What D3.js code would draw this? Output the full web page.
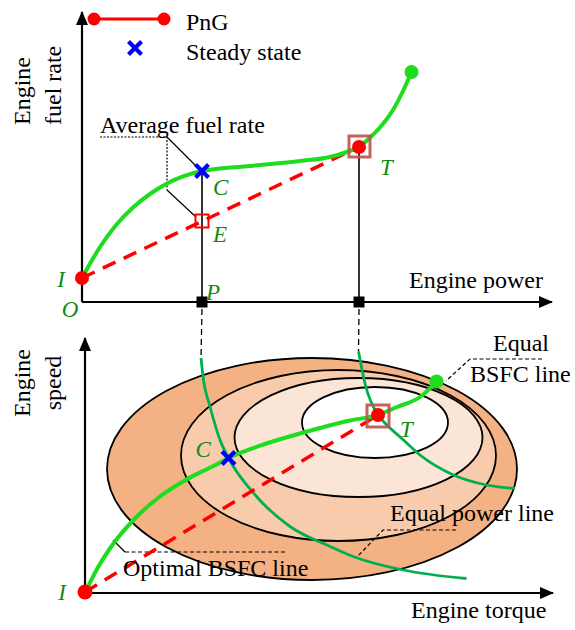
<!DOCTYPE html>
<html><head><meta charset="utf-8">
<script src="https://cdn.jsdelivr.net/npm/d3@7"></script>
<style>
html,body{margin:0;padding:0;background:#fff;}
svg{display:block;font-family:"Liberation Serif","Times New Roman",serif;}
</style></head><body>
<svg id="chart" width="575" height="630"></svg>
<script>
// ================= DATA =================
// Top panel: engine power (x) vs engine fuel rate (y), arbitrary units
const topPowerMax = 94, topFuelMax = 58;
const pngCurvePower = [0, 3.6, 6.9, 10.2, 13.6, 17, 24, 33.6, 43.6, 49.6, 53, 55.4, 57.6, 59.6, 62.2, 64.2, 65.9];
const pngCurveFuel  = [4.8, 11, 15.5, 18.9, 21.6, 23.7, 26.2, 27.2, 28.2, 29, 30, 31, 32.9, 34.9, 38.4, 42.2, 46];
const topPointNames = ["I", "C", "E", "T", "End"];
const topPointPower = [0, 24, 24, 55.4, 65.9];
const topPointFuel  = [4.8, 26.2, 16.2, 31, 46];
const avgLeaderDashedPower = [3.6, 17, 17];
const avgLeaderDashedFuel  = [33, 33, 22.4];
const avgLeaderToC = [[17, 33], [23, 27]];
const avgLeaderToE = [[17, 22.4], [22.8, 17]];

// Bottom panel: engine torque (x) vs engine speed (y), arbitrary units
const lowTorqueMax = 93.6, lowSpeedMax = 51;
const optCurveTorque = [0, 2.3, 5.7, 9.7, 15, 20.3, 25.7, 28.7, 36.3, 43, 47, 53, 58.6, 62.4, 67, 70.3];
const optCurveSpeed  = [0, 4.6, 9.9, 14.6, 19.3, 22.7, 25.4, 27, 29.9, 31.9, 33, 34.5, 35.6, 37.2, 39.2, 42.3];
const powerLineCTorque = [23.2, 23.7, 25, 27, 28.7, 34.3, 41, 49, 53.6, 63.6, 76.3];
const powerLineCSpeed  = [47, 42.6, 37.3, 30.6, 27, 19.3, 13.3, 9.3, 7.3, 4.6, 2.9];
const powerLineTTorque = [54.7, 56, 58.6, 59.7, 63.7, 67, 73.7, 80.3, 86];
const powerLineTSpeed  = [48.3, 41.9, 35.6, 34.3, 30.6, 27.6, 23.6, 21.6, 20.9];
const lowPointNames  = ["I", "C", "T", "End"];
const lowPointTorque = [0, 28.7, 58.6, 70.3];
const lowPointSpeed  = [0.2, 27, 35.6, 42.3];
// BSFC contours (ellipses): centre and semi-axes, outer to inner
const bsfcCenterTorque = [45.4, 50.7, 54.7, 58];
const bsfcCenterSpeed  = [24.8, 27.5, 31.1, 34.1];
const bsfcRadTorque    = [41, 31.5, 24.8, 14.6];
const bsfcRadSpeed     = [22.2, 17.1, 11.9, 7.1];
const bsfcFills = ["#F4B183", "#F8CBAD", "#FBE5D6", "#FFFFFF"];
// annotation leaders (data coords)
const optLeaderSolid  = [[5.6, 10.6], [8, 8.2]];
const optLeaderDashed = [[8, 8.2], [40, 8.2]];
const powLeaderDashed = [[74.2, 12.6], [59.6, 12.6], [54.2, 7]];
const bsfcLeaderDashed = [[91.4, 46.8], [77, 46.8], [72.2, 42.4]];

// ================= SCALES =================
const xTop = d3.scaleLinear().domain([0, topPowerMax]).range([82, 552]);
const yTop = d3.scaleLinear().domain([0, topFuelMax]).range([302, 12]);
const xLow = d3.scaleLinear().domain([0, lowTorqueMax]).range([85, 553]);
const yLow = d3.scaleLinear().domain([0, lowSpeedMax]).range([593, 338]);

const BRIGHT = "#1EDC1E", DKGREEN = "#00B050", LABEL = "#118A11";
const svg = d3.select("#chart");
const defs = svg.append("defs");
defs.append("marker").attr("id", "arrow").attr("markerUnits", "userSpaceOnUse")
  .attr("viewBox", "0 0 14 12").attr("refX", 13).attr("refY", 6)
  .attr("markerWidth", 14).attr("markerHeight", 12).attr("orient", "auto")
  .append("path").attr("d", "M0,0L14,6L0,12Z").attr("fill", "#000");

const smoothTop = d3.line().x(d => xTop(d[0])).y(d => yTop(d[1])).curve(d3.curveMonotoneX);
const smoothLow = d3.line().x(d => xLow(d[0])).y(d => yLow(d[1])).curve(d3.curveMonotoneX);
const polyTop = d3.line().x(d => xTop(d[0])).y(d => yTop(d[1]));
const polyLow = d3.line().x(d => xLow(d[0])).y(d => yLow(d[1]));

const tp = {}; topPointNames.forEach((n, i) => tp[n] = [topPointPower[i], topPointFuel[i]]);
const lp = {}; lowPointNames.forEach((n, i) => lp[n] = [lowPointTorque[i], lowPointSpeed[i]]);

function addX(g, cx, cy, h) {
  g.append("path").attr("d", `M${cx-h},${cy-h}L${cx+h},${cy+h}M${cx-h},${cy+h}L${cx+h},${cy-h}`)
    .attr("stroke", "#0000FF").attr("stroke-width", 4.2).attr("fill", "none");
}
function txt(g, x, y, s, opts = {}) {
  const t = g.append("text").attr("x", x).attr("y", y).text(s)
    .attr("font-size", opts.size || 24).attr("fill", opts.fill || "#000");
  if (opts.italic) t.attr("font-style", "italic");
  if (opts.anchor) t.attr("text-anchor", opts.anchor);
  return t;
}

// ================= TOP PANEL =================
const gTop = svg.append("g");
gTop.append("line").attr("x1", xTop(0)).attr("y1", yTop(0)).attr("x2", xTop(0)).attr("y2", yTop(topFuelMax))
  .attr("stroke", "#000").attr("stroke-width", 2.2).attr("marker-end", "url(#arrow)");
gTop.append("line").attr("x1", xTop(0)).attr("y1", yTop(0)).attr("x2", xTop(topPowerMax)).attr("y2", yTop(0))
  .attr("stroke", "#000").attr("stroke-width", 2.2).attr("marker-end", "url(#arrow)");
gTop.append("path").attr("d", polyTop(d3.zip(avgLeaderDashedPower, avgLeaderDashedFuel)))
  .attr("fill", "none").attr("stroke", "#000").attr("stroke-width", 1.2).attr("stroke-dasharray", "2,1.5");
[avgLeaderToC, avgLeaderToE].forEach(seg => gTop.append("path").attr("d", polyTop(seg))
  .attr("fill", "none").attr("stroke", "#000").attr("stroke-width", 1.2));
["C", "T"].forEach(n => gTop.append("line")
  .attr("x1", xTop(tp[n][0])).attr("x2", xTop(tp[n][0]))
  .attr("y1", yTop(tp[n][1])).attr("y2", yTop(0)).attr("stroke", "#000").attr("stroke-width", 1.6));
gTop.append("path").attr("d", polyTop([tp.I, tp.T])).attr("fill", "none")
  .attr("stroke", "#FF0000").attr("stroke-width", 3.5).attr("stroke-dasharray", "14,9");
gTop.append("path").attr("d", smoothTop(d3.zip(pngCurvePower, pngCurveFuel))).attr("fill", "none")
  .attr("stroke", BRIGHT).attr("stroke-width", 4);
gTop.append("rect").attr("x", xTop(tp.E[0]) - 6.5).attr("y", yTop(tp.E[1]) - 6.5).attr("width", 13).attr("height", 13)
  .attr("fill", "none").attr("stroke", "#FF0000").attr("stroke-width", 2);
addX(gTop, xTop(tp.C[0]), yTop(tp.C[1]), 6.5);
gTop.append("circle").attr("cx", xTop(tp.I[0])).attr("cy", yTop(tp.I[1])).attr("r", 7).attr("fill", "#FF0000");
gTop.append("circle").attr("cx", xTop(tp.End[0])).attr("cy", yTop(tp.End[1])).attr("r", 7).attr("fill", BRIGHT);
gTop.append("circle").attr("cx", xTop(tp.T[0])).attr("cy", yTop(tp.T[1])).attr("r", 7).attr("fill", "#FF0000");
gTop.append("rect").attr("x", xTop(tp.T[0]) - 10).attr("y", yTop(tp.T[1]) - 11).attr("width", 21).attr("height", 21)
  .attr("fill", "none").attr("stroke", "#C0504D").attr("stroke-width", 3).attr("opacity", 0.9);
["C", "T"].forEach(n => gTop.append("rect").attr("x", xTop(tp[n][0]) - 5.5).attr("y", yTop(0) - 5.5)
  .attr("width", 11).attr("height", 11).attr("fill", "#000"));
const lab = {size: 23, italic: true, fill: LABEL};
txt(gTop, xTop(tp.I[0]) - 21, yTop(tp.I[1]) + 9, "I", {...lab, anchor: "middle"});
txt(gTop, xTop(0) - 12, yTop(0) + 15, "O", {...lab, anchor: "middle"});
txt(gTop, xTop(tp.C[0]) + 11, yTop(tp.C[1]) + 24, "C", lab);
txt(gTop, xTop(tp.E[0]) + 11, yTop(tp.E[1]) + 21, "E", lab);
txt(gTop, xTop(tp.C[0]) + 4, yTop(0) - 2, "P", lab);
txt(gTop, xTop(tp.T[0]) + 21, yTop(tp.T[1]) + 28, "T", lab);
txt(gTop, xTop(3.6), yTop(33.8), "Average fuel rate");
txt(gTop, 409, 288, "Engine power");
gTop.append("text").attr("transform", "translate(30,125) rotate(-90)").attr("font-size", 24).text("Engine");
gTop.append("text").attr("transform", "translate(61,125) rotate(-90)").attr("font-size", 24).text("fuel rate");
// legend
gTop.append("line").attr("x1", 94).attr("x2", 164).attr("y1", 19).attr("y2", 19).attr("stroke", "#FF0000").attr("stroke-width", 3);
[94, 164].forEach(cx => gTop.append("circle").attr("cx", cx).attr("cy", 19).attr("r", 6.5).attr("fill", "#FF0000"));
addX(gTop, 135, 48, 6.5);
txt(gTop, 186, 30, "PnG");
txt(gTop, 186, 60, "Steady state");

// connectors between panels
[[tp.C[0], powerLineCTorque[0], powerLineCSpeed[0]], [tp.T[0], powerLineTTorque[0], powerLineTSpeed[0]]].forEach(([pw, tq, sp]) =>
  svg.append("line").attr("x1", xTop(pw)).attr("x2", xLow(tq)).attr("y1", yTop(0) + 7).attr("y2", yLow(sp))
    .attr("stroke", "#000").attr("stroke-width", 1.3).attr("stroke-dasharray", "6,4"));

// ================= BOTTOM PANEL =================
const gLow = svg.append("g");
bsfcFills.forEach((f, i) => gLow.append("ellipse")
  .attr("cx", xLow(bsfcCenterTorque[i])).attr("cy", yLow(bsfcCenterSpeed[i]))
  .attr("rx", xLow(bsfcRadTorque[i]) - xLow(0)).attr("ry", yLow(0) - yLow(bsfcRadSpeed[i]))
  .attr("fill", f).attr("stroke", "#000").attr("stroke-width", 1.8));
gLow.append("line").attr("x1", xLow(0)).attr("y1", yLow(0)).attr("x2", xLow(0)).attr("y2", yLow(lowSpeedMax))
  .attr("stroke", "#000").attr("stroke-width", 2.2).attr("marker-end", "url(#arrow)");
gLow.append("line").attr("x1", xLow(0)).attr("y1", yLow(0)).attr("x2", xLow(lowTorqueMax)).attr("y2", yLow(0))
  .attr("stroke", "#000").attr("stroke-width", 2.2).attr("marker-end", "url(#arrow)");
gLow.append("path").attr("d", polyLow(optLeaderSolid)).attr("fill", "none").attr("stroke", "#000").attr("stroke-width", 1.2);
[optLeaderDashed, powLeaderDashed, bsfcLeaderDashed].forEach(seg => gLow.append("path").attr("d", polyLow(seg))
  .attr("fill", "none").attr("stroke", "#000").attr("stroke-width", 1.2).attr("stroke-dasharray", "4,2.5"));
[[powerLineCTorque, powerLineCSpeed], [powerLineTTorque, powerLineTSpeed]].forEach(([tq, sp]) =>
  gLow.append("path").attr("d", smoothLow(d3.zip(tq, sp))).attr("fill", "none")
    .attr("stroke", DKGREEN).attr("stroke-width", 2.8));
gLow.append("path").attr("d", polyLow([lp.I, lp.T])).attr("fill", "none")
  .attr("stroke", "#FF0000").attr("stroke-width", 3.5).attr("stroke-dasharray", "14,9");
gLow.append("path").attr("d", smoothLow(d3.zip(optCurveTorque, optCurveSpeed))).attr("fill", "none")
  .attr("stroke", BRIGHT).attr("stroke-width", 4);
addX(gLow, xLow(lp.C[0]), yLow(lp.C[1]), 6.5);
gLow.append("circle").attr("cx", xLow(lp.I[0])).attr("cy", yLow(lp.I[1])).attr("r", 7.5).attr("fill", "#FF0000");
gLow.append("circle").attr("cx", xLow(lp.End[0])).attr("cy", yLow(lp.End[1])).attr("r", 7).attr("fill", BRIGHT);
gLow.append("circle").attr("cx", xLow(lp.T[0])).attr("cy", yLow(lp.T[1])).attr("r", 7).attr("fill", "#FF0000");
gLow.append("rect").attr("x", xLow(lp.T[0]) - 11).attr("y", yLow(lp.T[1]) - 10).attr("width", 22).attr("height", 22)
  .attr("fill", "none").attr("stroke", "#C0504D").attr("stroke-width", 3).attr("opacity", 0.9);
txt(gLow, xLow(lp.I[0]) - 23, yLow(lp.I[1]) + 8, "I", {...lab, anchor: "middle"});
txt(gLow, xLow(lp.C[0]) - 33, yLow(lp.C[1]) - 1, "C", lab);
txt(gLow, xLow(lp.T[0]) + 22, yLow(lp.T[1]) + 22, "T", lab);
txt(gLow, xLow(7.6), yLow(3.4), "Optimal BSFC line");
txt(gLow, xLow(61), yLow(14.4), "Equal power line");
txt(gLow, xLow(81.6), yLow(48.4), "Equal");
txt(gLow, xLow(77), yLow(42.2), "BSFC line");
txt(gLow, 411, 618, "Engine torque");
gLow.append("text").attr("transform", "translate(30,383) rotate(-90)").attr("font-size", 24).attr("text-anchor", "middle").text("Engine");
gLow.append("text").attr("transform", "translate(61,383) rotate(-90)").attr("font-size", 24).attr("text-anchor", "middle").text("speed");
</script>
</body></html>
